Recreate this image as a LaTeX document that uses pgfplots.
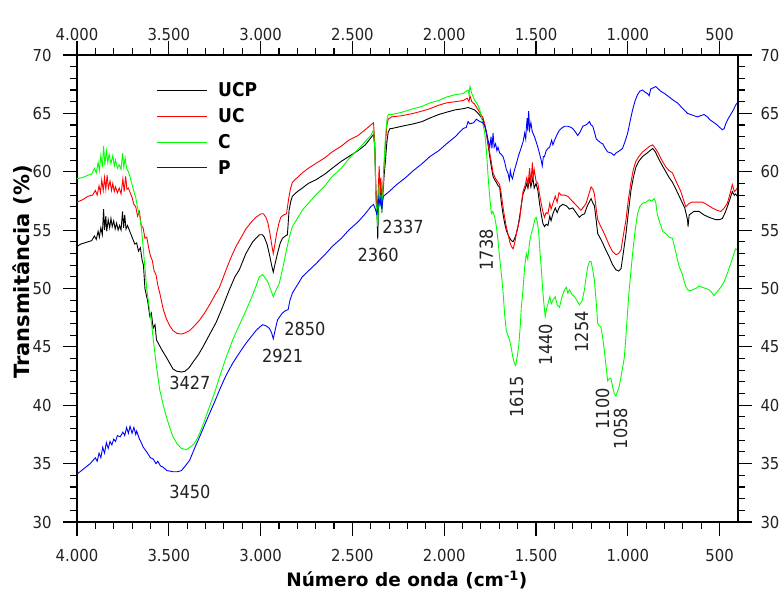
\documentclass[border=0pt]{standalone}
\usepackage{pgfplots}
\pgfplotsset{compat=1.18}
\usepackage{fontspec}
\setmainfont{DejaVu Sans Condensed}
\newfontfamily\labfont{DejaVu Sans}
\definecolor{tl}{HTML}{222222}
\definecolor{fgreen}{HTML}{00FF00}
\definecolor{fred}{HTML}{FF0000}
\definecolor{fblue}{HTML}{0000FF}
\pgfplotsset{common/.style={
  scale only axis, width=661pt, height=467pt,
  xmin=400, xmax=4000, ymin=30, ymax=70, x dir=reverse,
  xtick={500,1000,...,4000}, ytick={30,35,...,70},
  minor x tick num=4, minor y tick num=4,
  tick align=outside,
  major tick length=14pt, minor tick length=7pt,
  scaled x ticks=false,
  tick label style={font=\fontsize{16.5}{16.5}\selectfont, text=tl, /pgf/number format/assume math mode=true},
  x tick label style={/pgf/number format/1000 sep={.}},
  axis line style={line width=1.2pt},
  tick style={black, line width=1.1pt},
}}
\begin{document}
\begin{tikzpicture}
\useasboundingbox (-77pt,-72pt) rectangle (702pt,522pt);
\begin{axis}[common,
  xticklabel shift=10pt, yticklabel shift=8pt,
  xlabel={\labfont\bfseries Número de onda (cm\textsuperscript{-1})},
  ylabel={\labfont\bfseries Transmitância (\%)},
  xlabel style={font=\fontsize{18.5}{18.5}\selectfont, at={(axis description cs:0.499,-0.124)}, anchor=center},
  ylabel style={font=\fontsize{21}{21}\selectfont, at={(axis description cs:-0.083,0.535)}, anchor=center},
  legend style={draw=none, fill=none, at={(0.115,0.95)}, anchor=north west,
    font=\fontsize{19}{19}\selectfont\bfseries, row sep=6.3pt, column sep=9pt,
    nodes={inner xsep=2pt}},
  legend cell align=left,
  legend image post style={xscale=2.93},
  every axis plot/.append style={line width=0.9pt},
]
\addplot[black] coordinates {
(4000,53.6)(3980,53.8)(3960,53.9)(3940,54.0)(3920,54.1)(3905,54.5)(3895,54.2)(3885,54.9)(3878,54.4)(3870,55.2)(3862,54.6)(3855,56.8)(3850,55.0)(3843,56.2)(3838,54.9)(3830,55.9)(3822,55.2)(3815,56.0)(3808,55.3)(3800,55.8)(3792,55.1)(3784,55.6)(3776,55.0)(3768,55.4)(3760,55.0)(3752,56.6)(3746,55.2)(3740,56.3)(3733,55.1)(3725,55.4)(3715,55.0)(3705,54.6)(3695,54.2)(3685,53.8)(3675,53.9)(3665,53.2)(3655,53.5)(3645,52.4)(3638,52.0)(3630,50.0)(3615,48.9)(3603,47.6)(3595,47.9)(3585,46.6)(3575,46.9)(3567,45.6)(3540,44.8)(3513,44.1)(3495,43.6)(3477,43.1)(3455,42.9)(3430,42.85)(3413,42.9)(3390,43.2)(3368,43.7)(3340,44.3)(3314,45.0)(3280,46.0)(3242,47.1)(3205,48.5)(3170,49.9)(3140,51.0)(3116,51.6)(3080,53.0)(3043,54.0)(3007,54.6)(2990,54.6)(2980,54.4)(2965,53.8)(2953,53.0)(2940,52.0)(2931,51.4)(2920,52.2)(2908,53.0)(2893,53.9)(2881,54.3)(2865,54.5)(2854,54.6)(2845,56.7)(2835,57.5)(2827,57.9)(2800,58.3)(2773,58.6)(2740,59.0)(2700,59.3)(2650,59.8)(2610,60.3)(2560,60.9)(2520,61.3)(2470,61.8)(2430,62.3)(2400,62.9)(2385,63.2)(2378,62.0)(2372,58.0)(2366,56.5)(2362,54.2)(2358,57.0)(2354,58.5)(2350,57.5)(2345,58.3)(2340,56.5)(2335,57.8)(2328,59.5)(2320,61.0)(2312,62.6)(2305,63.4)(2295,63.7)(2286,63.7)(2230,63.9)(2168,64.1)(2120,64.3)(2078,64.6)(2030,64.9)(1987,65.1)(1940,65.3)(1897,65.4)(1870,65.5)(1852,65.4)(1835,65.3)(1815,65.0)(1800,64.7)(1788,64.4)(1778,63.9)(1770,63.3)(1760,62.2)(1752,61.3)(1743,60.4)(1734,59.6)(1725,59.3)(1716,59.1)(1707,58.8)(1698,58.7)(1690,57.5)(1680,56.4)(1671,55.6)(1662,55.0)(1650,54.5)(1634,54.1)(1625,54.0)(1616,54.3)(1607,54.7)(1598,55.3)(1585,56.6)(1571,58.1)(1560,58.5)(1550,59.0)(1544,58.6)(1535,59.4)(1528,58.7)(1517,59.5)(1510,58.6)(1500,59.0)(1490,58.4)(1480,57.2)(1472,56.4)(1463,55.6)(1454,55.3)(1445,55.5)(1435,55.4)(1425,56.2)(1418,55.8)(1408,56.4)(1395,56.9)(1385,56.5)(1372,57.0)(1355,57.2)(1336,57.1)(1318,56.8)(1300,56.9)(1282,56.5)(1264,56.1)(1250,56.3)(1236,56.4)(1220,57.1)(1200,57.7)(1190,57.3)(1182,57.1)(1172,55.8)(1164,54.7)(1150,54.3)(1137,53.9)(1120,53.3)(1101,52.7)(1085,52.1)(1065,51.6)(1050,51.5)(1037,51.7)(1025,53.0)(1010,54.7)(998,56.4)(983,58.4)(970,59.5)(956,60.4)(940,60.9)(920,61.3)(895,61.6)(880,61.8)(865,62.0)(850,61.7)(838,61.3)(815,60.6)(793,60.0)(775,59.5)(757,59.1)(735,58.4)(711,57.6)(690,56.9)(675,55.9)(672,55.3)(666,56.3)(640,56.6)(612,56.6)(585,56.3)(558,56.1)(540,56.0)(522,55.9)(500,55.9)(485,56.0)(470,56.5)(458,57.0)(445,57.6)(431,58.3)(420,58.0)(413,58.1)(404,57.9)
};
\addlegendentry{UCP}
\addplot[fred] coordinates {
(4000,57.4)(3970,57.6)(3940,57.9)(3915,58.0)(3900,58.4)(3890,58.0)(3880,58.8)(3872,58.2)(3865,59.3)(3857,58.4)(3850,59.5)(3843,58.5)(3836,59.7)(3829,58.6)(3820,59.2)(3812,58.4)(3805,59.0)(3797,58.3)(3790,58.7)(3780,58.2)(3770,58.6)(3760,58.1)(3750,59.4)(3743,58.3)(3735,59.6)(3728,58.5)(3720,58.6)(3710,58.2)(3700,57.8)(3690,57.2)(3680,57.0)(3670,56.2)(3660,56.6)(3650,55.4)(3640,55.2)(3630,54.3)(3620,54.4)(3610,53.5)(3600,52.8)(3590,52.4)(3580,51.5)(3570,51.2)(3560,50.3)(3549,49.6)(3530,48.2)(3513,47.4)(3495,46.8)(3477,46.4)(3455,46.15)(3431,46.1)(3410,46.2)(3386,46.4)(3360,46.8)(3332,47.3)(3305,47.9)(3278,48.6)(3250,49.4)(3224,50.1)(3188,51.6)(3160,52.7)(3134,53.6)(3105,54.4)(3080,55.1)(3050,55.7)(3025,56.1)(2998,56.4)(2985,56.4)(2971,56.1)(2960,55.6)(2949,54.7)(2940,53.8)(2931,53.0)(2922,53.8)(2913,54.7)(2900,55.6)(2890,56.1)(2875,56.3)(2859,56.4)(2848,57.6)(2838,58.5)(2827,59.1)(2800,59.5)(2773,59.9)(2740,60.3)(2700,60.7)(2650,61.2)(2610,61.7)(2560,62.2)(2520,62.7)(2470,63.1)(2430,63.6)(2400,64.0)(2385,64.2)(2378,62.5)(2372,58.5)(2366,57.0)(2362,57.5)(2358,59.0)(2354,60.5)(2350,58.0)(2345,59.5)(2340,57.5)(2335,58.5)(2328,60.5)(2320,62.5)(2312,64.0)(2305,64.5)(2286,64.7)(2230,64.8)(2168,65.0)(2120,65.2)(2078,65.4)(2030,65.7)(1987,65.9)(1940,66.0)(1897,66.1)(1875,66.3)(1865,66.0)(1860,66.5)(1850,66.0)(1835,65.8)(1815,65.3)(1800,64.9)(1788,64.6)(1778,64.0)(1770,63.3)(1760,62.3)(1752,61.6)(1743,60.8)(1734,59.9)(1720,59.4)(1707,59.1)(1698,58.9)(1689,58.1)(1680,57.0)(1671,56.1)(1662,55.3)(1653,54.7)(1643,54.0)(1634,53.6)(1625,53.4)(1616,53.9)(1605,54.9)(1589,55.9)(1580,57.2)(1571,58.3)(1560,58.8)(1550,59.5)(1544,58.8)(1535,60.3)(1528,59.0)(1520,60.8)(1517,59.3)(1510,60.2)(1500,59.2)(1490,59.0)(1480,58.0)(1472,57.3)(1463,56.6)(1454,56.1)(1445,56.5)(1435,56.4)(1425,57.3)(1418,56.8)(1408,57.3)(1395,57.9)(1385,57.4)(1375,58.2)(1363,58.0)(1345,58.0)(1327,57.9)(1310,57.6)(1291,57.3)(1273,57.0)(1255,56.7)(1240,57.0)(1227,57.3)(1212,58.1)(1200,58.7)(1190,58.5)(1182,58.1)(1172,56.8)(1164,55.9)(1150,55.4)(1137,55.0)(1120,54.4)(1101,53.7)(1085,53.2)(1065,52.9)(1050,53.0)(1037,53.3)(1025,54.5)(1010,55.9)(998,57.5)(983,59.1)(970,60.2)(956,60.9)(940,61.3)(920,61.7)(895,62.0)(880,62.2)(865,62.3)(850,62.0)(838,61.7)(815,61.0)(793,60.4)(775,60.1)(757,59.9)(735,59.1)(711,58.3)(697,57.6)(684,57.0)(666,57.3)(648,57.4)(620,57.4)(594,57.4)(570,57.2)(540,56.9)(515,56.7)(494,56.6)(475,56.9)(458,57.3)(445,58.0)(431,58.9)(420,58.3)(413,58.4)(404,58.6)
};
\addlegendentry{UC}
\addplot[fgreen] coordinates {
(4000,59.4)(3970,59.5)(3940,59.7)(3920,59.8)(3905,60.3)(3895,59.9)(3885,60.8)(3878,60.1)(3870,61.4)(3862,60.4)(3855,62.2)(3848,60.6)(3840,61.8)(3832,60.8)(3825,61.5)(3815,60.7)(3805,61.4)(3797,60.5)(3790,61.0)(3780,60.3)(3770,60.6)(3760,60.2)(3752,61.6)(3745,60.4)(3738,61.2)(3730,60.3)(3720,60.0)(3710,59.5)(3700,58.9)(3690,58.3)(3680,57.8)(3670,56.9)(3660,56.3)(3650,55.3)(3640,53.6)(3630,51.8)(3621,50.1)(3606,48.3)(3594,47.0)(3580,45.0)(3567,43.3)(3549,41.3)(3530,40.0)(3513,39.0)(3495,38.1)(3477,37.3)(3455,36.7)(3431,36.3)(3404,36.2)(3385,36.4)(3368,36.6)(3350,37.0)(3332,37.6)(3305,38.7)(3278,39.9)(3250,41.1)(3224,42.4)(3190,44.0)(3152,45.6)(3115,46.9)(3080,48.1)(3050,49.2)(3025,50.2)(3007,51.0)(2989,51.2)(2975,50.9)(2962,50.6)(2945,49.9)(2931,49.3)(2915,49.9)(2899,50.4)(2880,51.7)(2863,53.0)(2845,54.3)(2827,55.3)(2800,56.0)(2773,56.7)(2740,57.3)(2700,58.0)(2650,58.8)(2610,59.6)(2560,60.3)(2520,61.1)(2470,61.9)(2430,62.6)(2400,63.1)(2385,63.6)(2378,62.0)(2372,57.5)(2366,56.0)(2362,55.3)(2358,57.5)(2354,59.0)(2350,57.0)(2345,58.0)(2340,56.5)(2335,58.0)(2328,60.5)(2320,63.0)(2312,64.4)(2305,64.9)(2286,64.9)(2230,65.1)(2168,65.4)(2120,65.6)(2078,65.9)(2030,66.1)(1987,66.4)(1940,66.6)(1897,66.7)(1880,66.9)(1870,67.0)(1865,66.6)(1860,67.3)(1850,66.7)(1833,66.1)(1820,65.8)(1806,65.3)(1792,64.3)(1779,63.3)(1770,61.8)(1761,59.6)(1752,57.8)(1743,56.4)(1735,56.6)(1725,56.1)(1715,55.2)(1707,54.1)(1698,52.6)(1689,51.3)(1680,49.8)(1671,47.8)(1662,46.4)(1653,46.0)(1644,45.6)(1635,44.9)(1626,44.1)(1618,43.6)(1611,43.4)(1602,44.2)(1593,45.3)(1585,47.0)(1580,48.4)(1571,49.9)(1562,51.8)(1553,53.0)(1545,52.5)(1535,54.0)(1526,54.7)(1515,55.3)(1505,56.0)(1499,56.1)(1492,55.6)(1485,54.7)(1478,53.0)(1472,51.9)(1465,50.2)(1459,49.0)(1450,47.6)(1442,48.3)(1435,48.7)(1425,49.3)(1417,48.7)(1408,49.0)(1395,49.3)(1385,48.6)(1372,48.4)(1360,49.2)(1345,49.9)(1335,50.1)(1327,49.6)(1318,49.9)(1305,49.5)(1291,49.3)(1278,49.0)(1264,48.6)(1250,48.9)(1236,49.9)(1227,51.0)(1218,51.9)(1209,52.3)(1200,52.3)(1191,51.6)(1182,50.7)(1173,49.0)(1164,47.0)(1155,46.8)(1146,46.7)(1137,45.8)(1128,44.7)(1119,43.4)(1110,42.1)(1100,42.3)(1092,42.3)(1083,41.6)(1074,41.0)(1065,40.8)(1056,41.2)(1047,41.6)(1033,42.8)(1019,44.1)(1010,46.0)(1001,48.1)(992,50.0)(983,51.5)(974,53.0)(960,55.0)(947,56.4)(935,57.0)(920,57.3)(900,57.4)(884,57.6)(870,57.5)(857,57.7)(848,57.4)(840,56.4)(825,55.6)(810,54.9)(793,54.7)(775,54.4)(757,54.3)(740,53.2)(721,51.9)(705,51.3)(694,50.7)(685,50.2)(675,49.9)(660,49.8)(648,49.9)(630,50.0)(612,50.2)(594,50.1)(575,50.0)(558,49.9)(545,49.7)(531,49.4)(515,49.7)(494,50.1)(475,50.6)(458,51.3)(440,52.1)(422,53.0)(412,53.4)(404,53.3)
};
\addlegendentry{C}
\addplot[fblue] coordinates {
(4000,34.1)(3960,34.6)(3928,35.0)(3900,35.5)(3890,35.2)(3880,35.9)(3870,35.5)(3860,36.4)(3850,35.9)(3840,36.8)(3830,36.3)(3820,36.9)(3810,36.6)(3800,37.1)(3790,36.9)(3780,37.4)(3765,37.3)(3750,37.7)(3740,37.4)(3730,38.1)(3720,37.6)(3711,38.2)(3700,37.6)(3690,38.1)(3680,37.5)(3675,37.8)(3660,37.1)(3650,36.8)(3639,36.4)(3620,36.0)(3600,35.5)(3585,35.4)(3570,35.0)(3560,35.2)(3545,34.8)(3531,34.7)(3510,34.4)(3490,34.35)(3477,34.3)(3455,34.3)(3431,34.4)(3410,34.8)(3386,35.3)(3360,36.3)(3332,37.3)(3305,38.3)(3278,39.3)(3250,40.3)(3224,41.3)(3190,42.5)(3152,43.6)(3115,44.5)(3080,45.3)(3050,45.9)(3025,46.4)(3005,46.7)(2989,46.9)(2970,46.8)(2953,46.6)(2940,46.2)(2931,45.7)(2920,46.5)(2908,47.3)(2895,47.6)(2881,47.9)(2865,48.1)(2850,48.2)(2840,49.0)(2827,49.6)(2800,50.3)(2773,51.0)(2740,51.5)(2700,52.1)(2650,52.9)(2610,53.6)(2560,54.3)(2520,55.0)(2470,55.7)(2430,56.4)(2400,57.0)(2385,57.2)(2375,56.8)(2368,56.4)(2362,56.8)(2356,57.8)(2350,57.2)(2345,57.8)(2340,56.8)(2335,57.5)(2331,57.9)(2300,58.3)(2259,58.9)(2210,59.5)(2168,60.1)(2120,60.7)(2078,61.3)(2030,61.8)(1987,62.4)(1940,63.0)(1897,63.7)(1880,63.8)(1870,64.3)(1860,64.1)(1840,64.2)(1825,64.5)(1806,64.3)(1790,64.2)(1779,63.9)(1770,63.4)(1761,62.7)(1752,62.1)(1745,63.0)(1740,62.0)(1734,63.3)(1728,62.1)(1720,62.4)(1713,61.8)(1707,62.1)(1698,61.6)(1690,61.5)(1680,61.3)(1670,60.8)(1662,60.2)(1653,59.9)(1645,59.3)(1640,60.1)(1634,59.6)(1628,59.4)(1620,60.0)(1607,60.7)(1595,61.4)(1580,62.1)(1570,62.6)(1562,63.3)(1556,62.8)(1553,63.7)(1548,64.6)(1545,63.5)(1540,65.2)(1535,63.6)(1528,64.2)(1521,63.5)(1517,63.3)(1508,63.0)(1500,62.6)(1490,62.1)(1480,61.5)(1472,61.0)(1466,60.5)(1460,61.3)(1454,61.3)(1445,61.8)(1435,62.0)(1426,62.1)(1415,62.7)(1408,62.3)(1399,62.7)(1385,63.2)(1375,63.5)(1363,63.7)(1345,63.9)(1327,63.9)(1310,63.8)(1300,63.7)(1285,63.4)(1273,63.1)(1260,63.4)(1245,63.9)(1230,64.0)(1220,64.1)(1209,64.3)(1200,64.0)(1191,63.9)(1180,63.3)(1172,62.8)(1164,62.7)(1150,62.5)(1137,62.4)(1123,62.0)(1110,61.7)(1090,61.6)(1075,61.4)(1065,61.6)(1045,61.8)(1029,62.0)(1015,62.6)(1001,63.3)(988,64.3)(974,65.3)(960,66.1)(947,66.6)(935,66.9)(920,67.0)(905,66.8)(893,66.7)(884,66.5)(875,67.1)(860,67.2)(848,67.3)(835,67.1)(821,66.9)(800,66.7)(775,66.4)(750,66.1)(730,65.9)(712,65.6)(694,65.3)(675,65.0)(657,64.9)(640,64.8)(621,64.7)(603,64.8)(585,64.9)(567,64.7)(549,64.4)(530,64.2)(513,64.0)(500,63.8)(485,63.6)(475,63.7)(467,64.1)(455,64.5)(440,64.9)(425,65.3)(413,65.7)(404,65.9)
};
\addlegendentry{P}
\begin{scope}[every node/.style={font=\fontsize{18}{18}\selectfont, text=tl}]
\node at (axis cs:3385,41.9) {3427};
\node at (axis cs:3385,32.6) {3450};
\node at (axis cs:2880,44.2) {2921};
\node at (axis cs:2759,46.5) {2850};
\node at (axis cs:2360,52.9) {2360};
\node at (axis cs:2224,55.3) {2337};
\node[rotate=90] at (axis cs:1770,53.3) {1738};
\node[rotate=90] at (axis cs:1606,40.7) {1615};
\node[rotate=90] at (axis cs:1448,45.2) {1440};
\node[rotate=90] at (axis cs:1252,46.3) {1254};
\node[rotate=90] at (axis cs:1138,39.7) {1100};
\node[rotate=90] at (axis cs:1040,38.0) {1058};
\end{scope}
\end{axis}
\begin{axis}[common, axis x line*=top, axis y line*=right,
  x tick label style={yshift=-3.5pt}, y tick label style={xshift=5pt}]
\end{axis}
\end{tikzpicture}
\end{document}
